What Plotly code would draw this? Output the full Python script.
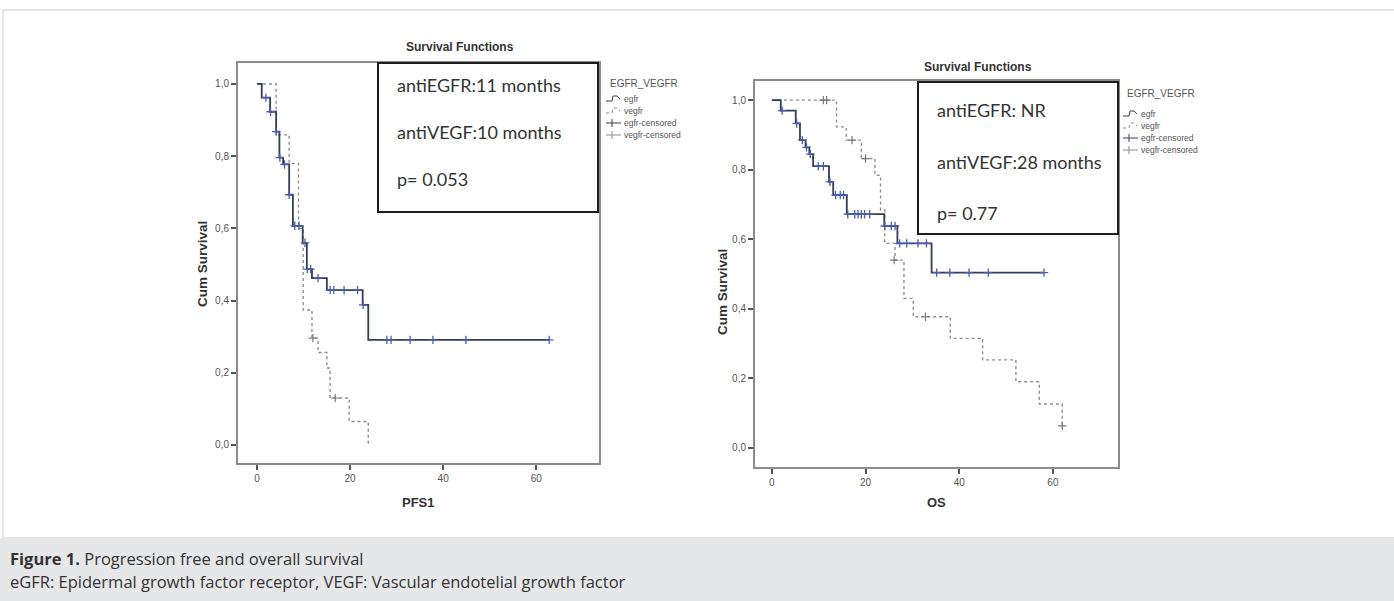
import plotly.graph_objects as go

W, H = 1394, 601

# ---------------- DATA ----------------
# Panel 1: PFS1 (months) – Kaplan-Meier steps
pfs_egfr_t = [0, 1.0, 2.8, 4.1, 4.8, 5.6, 6.9, 7.7, 9.8, 10.7, 11.8, 15.0, 22.7, 23.9, 62.8]
pfs_egfr_s = [1.0, 0.962, 0.923, 0.868, 0.796, 0.777, 0.693, 0.607, 0.560, 0.487, 0.462, 0.429, 0.388, 0.291, 0.291]
pfs_egfr_cens_t = [1.9, 2.9, 4.1, 4.9, 5.9, 6.9, 8.1, 9.0, 10.3, 10.8, 11.5, 13.1, 15.7, 16.5, 18.7, 21.6, 22.8,
                   27.9, 28.8, 32.9, 37.8, 44.9, 62.8]
pfs_egfr_cens_s = [0.962, 0.923, 0.868, 0.796, 0.777, 0.693, 0.607, 0.607, 0.560, 0.487, 0.487, 0.462, 0.429, 0.429,
                   0.429, 0.429, 0.388, 0.291, 0.291, 0.291, 0.291, 0.291, 0.291]
pfs_vegf_t = [0, 4.1, 6.9, 8.9, 9.9, 11.8, 13.1, 15.0, 15.7, 19.8, 23.9]
pfs_vegf_s = [1.0, 0.859, 0.780, 0.600, 0.374, 0.296, 0.256, 0.213, 0.130, 0.065, 0.0]
pfs_vegf_cens_t = [12.0, 16.8]
pfs_vegf_cens_s = [0.296, 0.130]

# Panel 2: OS (months)
os_egfr_t = [0, 1.9, 5.1, 6.0, 7.2, 8.0, 8.8, 12.2, 13.1, 16.0, 24.0, 26.8, 34.1, 58.1]
os_egfr_s = [1.0, 0.970, 0.933, 0.885, 0.864, 0.845, 0.810, 0.765, 0.727, 0.672, 0.638, 0.588, 0.504, 0.504]
os_egfr_cens_t = [2.2, 5.3, 6.5, 7.4, 8.2, 9.9, 11.0, 12.4, 13.6, 14.6, 15.3, 16.2, 17.7, 18.4, 19.1, 19.8, 20.9,
                  24.1, 25.5, 26.3, 27.3, 28.8, 31.2, 33.0, 35.2, 38.0, 42.1, 46.2, 58.1]
os_egfr_cens_s = [0.970, 0.933, 0.885, 0.864, 0.845, 0.810, 0.810, 0.765, 0.727, 0.727, 0.727, 0.672, 0.672, 0.672,
                  0.672, 0.672, 0.672, 0.638, 0.638, 0.638, 0.588, 0.588, 0.588, 0.588, 0.504, 0.504, 0.504, 0.504,
                  0.504]
os_vegf_t = [0, 13.8, 15.9, 19.1, 22.0, 23.2, 24.1, 26.3, 28.2, 30.2, 38.1, 45.0, 52.1, 57.1, 62.0]
os_vegf_s = [1.0, 0.923, 0.885, 0.832, 0.784, 0.684, 0.588, 0.540, 0.430, 0.377, 0.315, 0.253, 0.190, 0.126, 0.063]
os_vegf_cens_t = [11.0, 11.7, 17.1, 20.0, 26.1, 32.8, 62.0]
os_vegf_cens_s = [1.0, 1.0, 0.885, 0.832, 0.540, 0.377, 0.063]

x_ticks = [0, 20, 40, 60]
y_ticks = [0.0, 0.2, 0.4, 0.6, 0.8, 1.0]
y_tick_text = ["0,0", "0,2", "0,4", "0,6", "0,8", "1,0"]

panel_titles = ["Survival Functions", "Survival Functions"]
x_titles = ["PFS1", "OS"]
y_title = "Cum Survival"
legend_title = "EGFR_VEGFR"
legend_items = ["egfr", "vegfr", "egfr-censored", "vegfr-censored"]
box_lines_1 = ["antiEGFR:11 months", "antiVEGF:10 months", "p= 0.053"]
box_lines_2 = ["antiEGFR: NR", "antiVEGF:28 months", "p= 0.77"]
caption_bold = "Figure 1."
caption_1 = " Progression free and overall survival"
caption_2 = "eGFR: Epidermal growth factor receptor, VEGF: Vascular endotelial growth factor"

# ---------------- STYLE ----------------
EGFR_LINE = "#353d55"
EGFR_MARK = "#4a5db0"
VEGF_LINE = "#8f8f8f"
VEGF_MARK = "#7a7a7a"
FRAME = "#8c8c8c"
TXT = "#333333"


def fx(px):
    return px / W


def fy(py):
    return 1 - py / H


fig = go.Figure()

panels = [
    dict(xa="x", ya="y", egfr=(pfs_egfr_t, pfs_egfr_s), egfr_c=(pfs_egfr_cens_t, pfs_egfr_cens_s),
         vegf=(pfs_vegf_t, pfs_vegf_s), vegf_c=(pfs_vegf_cens_t, pfs_vegf_cens_s)),
    dict(xa="x2", ya="y2", egfr=(os_egfr_t, os_egfr_s), egfr_c=(os_egfr_cens_t, os_egfr_cens_s),
         vegf=(os_vegf_t, os_vegf_s), vegf_c=(os_vegf_cens_t, os_vegf_cens_s)),
]

for p in panels:
    fig.add_trace(go.Scatter(x=p["vegf"][0], y=p["vegf"][1], mode="lines", line_shape="hv",
                             line=dict(color=VEGF_LINE, width=1.4, dash="dot"),
                             xaxis=p["xa"], yaxis=p["ya"], showlegend=False, hoverinfo="skip"))
    fig.add_trace(go.Scatter(x=p["vegf_c"][0], y=p["vegf_c"][1], mode="markers",
                             marker=dict(symbol="cross-thin", size=6, line=dict(color=VEGF_MARK, width=1.2)),
                             xaxis=p["xa"], yaxis=p["ya"], showlegend=False, hoverinfo="skip"))
    fig.add_trace(go.Scatter(x=p["egfr"][0], y=p["egfr"][1], mode="lines", line_shape="hv",
                             line=dict(color=EGFR_LINE, width=1.8),
                             xaxis=p["xa"], yaxis=p["ya"], showlegend=False, hoverinfo="skip"))
    fig.add_trace(go.Scatter(x=p["egfr_c"][0], y=p["egfr_c"][1], mode="markers",
                             marker=dict(symbol="cross-thin", size=6, line=dict(color=EGFR_MARK, width=1.3)),
                             xaxis=p["xa"], yaxis=p["ya"], showlegend=False, hoverinfo="skip"))

axis_common = dict(showgrid=False, zeroline=False, showline=True, mirror=True, linecolor=FRAME, linewidth=2,
                   ticks="outside", ticklen=5, tickwidth=1.5, tickcolor="#555555",
                   tickfont=dict(family="Liberation Sans, Arial", size=10, color="#555555"))

# geometry of the two plot frames (pixels)
frames = [dict(l=238, r=599, t=63, b=463, xr=[-4.1, 73.5], yr=[-0.05, 1.058]),
          dict(l=755, r=1118, t=81, b=467, xr=[-3.6, 73.9], yr=[-0.055, 1.055])]

for i, f in enumerate(frames):
    sx = "" if i == 0 else "2"
    fig.update_layout(**{
        f"xaxis{sx}": dict(domain=[fx(f["l"]), fx(f["r"])], range=f["xr"], tickvals=x_ticks,
                           anchor=f"y{sx}", **axis_common),
        f"yaxis{sx}": dict(domain=[fy(f["b"]), fy(f["t"])], range=f["yr"], tickvals=y_ticks,
                           ticktext=y_tick_text, anchor=f"x{sx}", **axis_common),
    })

shapes = []
annotations = []

# page panel + caption band
shapes.append(dict(type="rect", xref="paper", yref="paper", x0=fx(3), x1=fx(1400), y0=fy(538), y1=fy(10),
                   line=dict(color="#dcdcdc", width=1.5), fillcolor="white", layer="below"))
shapes.append(dict(type="rect", xref="paper", yref="paper", x0=0, x1=1, y0=0, y1=fy(538),
                   line=dict(width=0), fillcolor="#e6e7e9", layer="below"))

# text boxes
boxes = [dict(l=378, r=598, t=63, b=212, lines=box_lines_1, tx=395, ys=[85, 132, 179]),
         dict(l=918, r=1118, t=82, b=234, lines=box_lines_2, tx=935, ys=[110, 162, 213])]
for b in boxes:
    shapes.append(dict(type="rect", xref="paper", yref="paper", x0=fx(b["l"]), x1=fx(b["r"]),
                       y0=fy(b["b"]), y1=fy(b["t"]), line=dict(color="#1e1e1e", width=2),
                       fillcolor="white", layer="above"))
    for txt, yy in zip(b["lines"], b["ys"]):
        annotations.append(dict(x=fx(b["tx"]), y=fy(yy), xref="paper", yref="paper", text=txt,
                                showarrow=False, xanchor="left", yanchor="middle",
                                font=dict(family="Lato", size=18, color=TXT)))

# panel titles, axis titles
title_pos = [(460, 47), (978, 67)]
for (tx, ty), t in zip(title_pos, panel_titles):
    annotations.append(dict(x=fx(tx), y=fy(ty), xref="paper", yref="paper", text=f"<b>{t}</b>",
                            showarrow=False, xanchor="center", yanchor="middle",
                            font=dict(family="Liberation Sans, Arial", size=12, color=TXT)))
xt_pos = [(418, 502), (936, 502)]
for (tx, ty), t in zip(xt_pos, x_titles):
    annotations.append(dict(x=fx(tx), y=fy(ty), xref="paper", yref="paper", text=f"<b>{t}</b>",
                            showarrow=False, xanchor="center", yanchor="middle",
                            font=dict(family="Liberation Sans, Arial", size=13, color=TXT)))
yt_pos = [(202, 264), (722, 292)]
for tx, ty in yt_pos:
    annotations.append(dict(x=fx(tx), y=fy(ty), xref="paper", yref="paper", text=f"<b>{y_title}</b>",
                            showarrow=False, xanchor="center", yanchor="middle", textangle=-90,
                            font=dict(family="Liberation Sans, Arial", size=13.5, color=TXT)))

# manual legends
legends = [dict(x=606, ty=83, ys=[99, 111, 123, 135]), dict(x=1123, ty=94, ys=[114, 126, 138, 150])]
for lg in legends:
    annotations.append(dict(x=fx(lg["x"] + 2), y=fy(lg["ty"]), xref="paper", yref="paper", text=legend_title,
                            showarrow=False, xanchor="left", yanchor="middle",
                            font=dict(family="Liberation Sans, Arial", size=10, color="#555555")))
    x0 = lg["x"]
    for k, (name, yy) in enumerate(zip(legend_items, lg["ys"])):
        col = EGFR_LINE if k in (0, 2) else VEGF_LINE
        dash = "solid" if k in (0, 2) else "dot"
        if k < 2:
            path = (f"M {fx(x0)},{fy(yy + 2)} L {fx(x0 + 6)},{fy(yy + 2)} L {fx(x0 + 7)},{fy(yy - 3)} "
                    f"L {fx(x0 + 11)},{fy(yy - 3)} L {fx(x0 + 14)},{fy(yy)}")
            shapes.append(dict(type="path", xref="paper", yref="paper", path=path,
                               line=dict(color=col, width=1, dash=dash)))
        else:
            shapes.append(dict(type="line", xref="paper", yref="paper", x0=fx(x0), x1=fx(x0 + 15),
                               y0=fy(yy), y1=fy(yy), line=dict(color=col, width=1)))
            shapes.append(dict(type="line", xref="paper", yref="paper", x0=fx(x0 + 6), x1=fx(x0 + 6),
                               y0=fy(yy - 4), y1=fy(yy + 4), line=dict(color=col, width=1)))
        annotations.append(dict(x=fx(x0 + 16), y=fy(yy), xref="paper", yref="paper", text=name,
                                showarrow=False, xanchor="left", yanchor="middle",
                                font=dict(family="Liberation Sans, Arial", size=8.5, color="#555555")))

# caption
annotations.append(dict(x=fx(8), y=fy(558), xref="paper", yref="paper",
                        text=f"<b>{caption_bold}</b>{caption_1}", showarrow=False, xanchor="left",
                        yanchor="middle", font=dict(family="Open Sans", size=16.5, color=TXT)))
annotations.append(dict(x=fx(8), y=fy(581), xref="paper", yref="paper", text=caption_2, showarrow=False,
                        xanchor="left", yanchor="middle", font=dict(family="Open Sans", size=16.5, color=TXT)))

fig.update_layout(width=W, height=H, margin=dict(l=0, r=0, t=0, b=0), paper_bgcolor="white",
                  plot_bgcolor="white", showlegend=False, shapes=shapes, annotations=annotations)

fig.write_html("out.html", config={"displayModeBar": False})

# remove the browser's default body margin so the figure sits at the page origin
with open("out.html", encoding="utf-8") as fh:
    html = fh.read()
html = html.replace("<body>", '<body style="margin:0;padding:0;overflow:hidden">', 1)
with open("out.html", "w", encoding="utf-8") as fh:
    fh.write(html)
